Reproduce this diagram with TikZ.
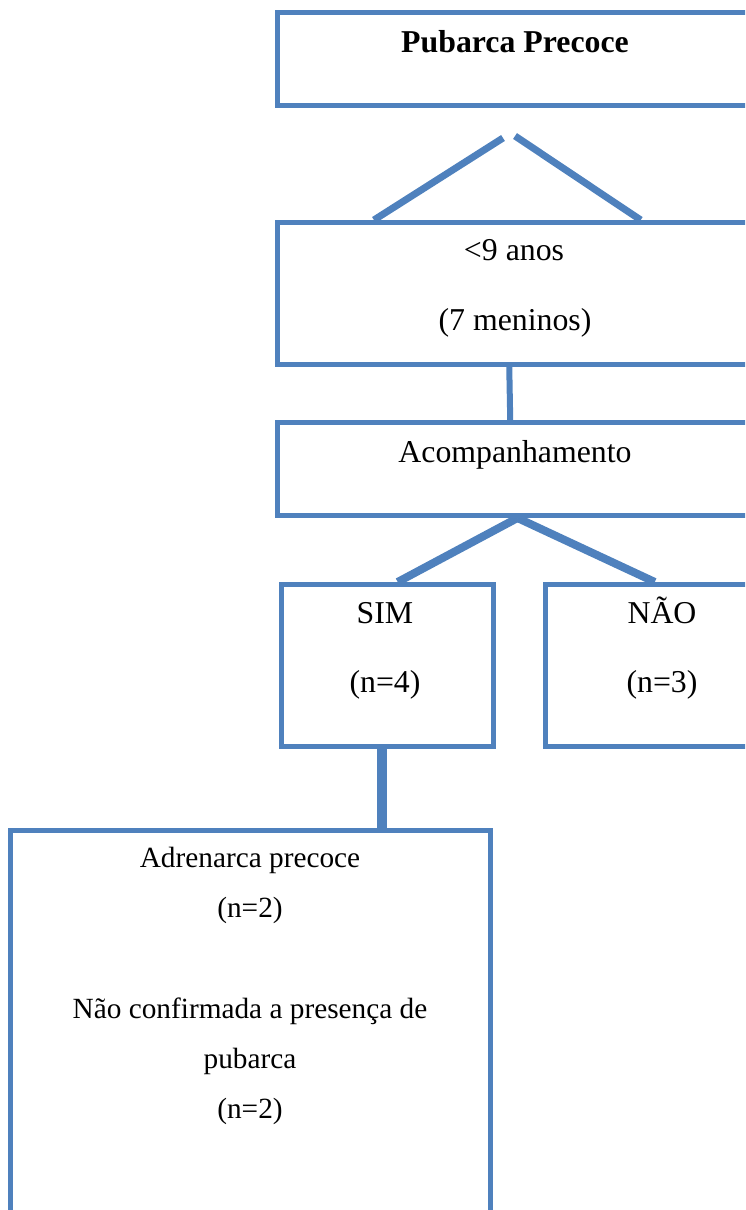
\documentclass[tikz,border=0pt]{standalone}
\usepackage{fontspec}
\setmainfont{Liberation Serif}
\usetikzlibrary{calc}
\definecolor{boxblue}{HTML}{4F81BD}
\begin{document}
\begin{tikzpicture}[x=1pt, y=-1pt,
    box/.style={rectangle, draw=boxblue, line width=5pt, anchor=north west, inner sep=0pt},
    txt/.style={anchor=base, inner sep=0pt, font=\fontsize{31.8}{38}\selectfont},
    small/.style={txt, font=\fontsize{29.3}{35}\selectfont},
    link/.style={draw=boxblue, line cap=butt}]

  \useasboundingbox (0,0) rectangle (745,1210);
  \clip (0,0) rectangle (745,1210);

  % caixas
  \foreach \n/\x/\y/\w/\h in {pub/275/10/480/93, idade/275/220/480/142, acomp/275/420/480/93,
                              sim/279/582/212/162, nao/543/582/238/162, adr/8/828/480/430}
      \node [box, minimum width=\w pt, minimum height=\h pt] (\n) at (\x,\y) {};

  % textos
  \node [txt] (pub-t) at (515,52) {\textbf{Pubarca Precoce}};
  \node [txt] (idade-t1) at (514,260) {<9 anos};
  \node [txt] (idade-t2) at (515,330) {(7 meninos)};
  \node [txt] (acomp-t) at (515,462) {Acompanhamento};
  \node [txt] (sim-t1) at (385,623) {SIM};
  \node [txt] (sim-t2) at (385,692) {(n=4)};
  \node [txt] (nao-t1) at (662,623) {NÃO};
  \node [txt] (nao-t2) at (662,692) {(n=3)};
  \foreach \t/\y [count=\i] in {Adrenarca precoce/867, (n=2)/917, Não confirmada a presença de/1018,
                                pubarca/1068, (n=2)/1118}
      \node [small] (adr-t\i) at (250,\y) {\t};

  % ligações
  \coordinate (pub-l) at (503,138);
  \coordinate (pub-r) at (515,136);
  \draw [link, line width=7pt] (pub-l) -- ($(idade.north west)!0.204!(idade.north east)$);
  \draw [link, line width=7pt] (pub-r) -- ($(idade.north west)!0.754!(idade.north east)$);
  \draw [link, line width=6pt] ($(idade.south west)!0.483!(idade.south east)$)
      -- ($(acomp.north west)!0.485!(acomp.north east)$);
  \draw [link, line width=8pt] (acomp.south) -- ($(sim.north west)!0.547!(sim.north east)$);
  \draw [link, line width=8pt] (acomp.south) -- ($(nao.north west)!0.46!(nao.north east)$);
  \draw [link, line width=10pt] ([xshift=-6pt]sim.south) -- ([xshift=-6pt]sim.south |- adr.north);

\end{tikzpicture}
\end{document}
